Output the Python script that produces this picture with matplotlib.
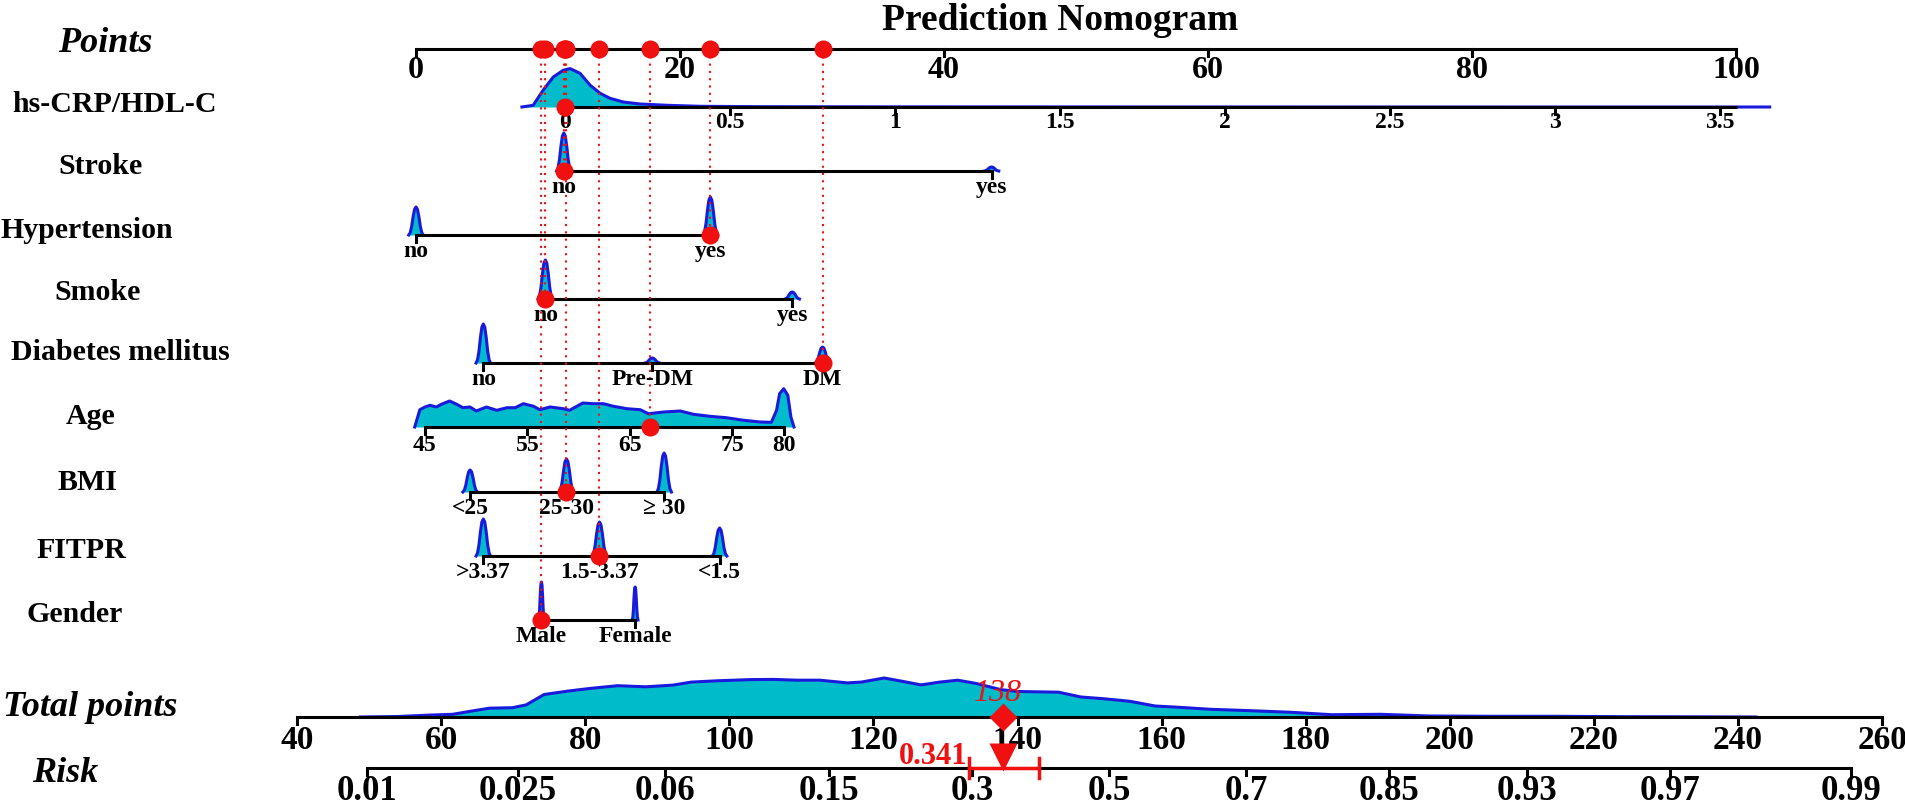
import numpy as np
import matplotlib.pyplot as plt
from matplotlib import transforms

plt.rcParams['font.family'] = ['Liberation Serif', 'DejaVu Serif']
plt.rcParams['font.weight'] = 'bold'

# ---------------- data ----------------
points_ticks = [0, 20, 40, 60, 80, 100]

# hs-CRP/HDL-C (continuous): points = crp_p0 + crp_k * value
crp_ticks = [0, 0.5, 1, 1.5, 2, 2.5, 3, 3.5]
crp_p0, crp_k = 11.3, 25.0
crp_range = [0, 3.55]
crp_dens_x = [-0.131, -0.097, -0.067, -0.036, -0.006, 0.015, 0.045, 0.076, 0.106,
              0.136, 0.176, 0.227, 0.309, 0.41, 0.6, 1.0, 2.0, 3.0, 3.65]
crp_dens_h = [0, 1.7, 16.7, 30, 36.7, 38.4, 33.7, 21.7, 13.7,
              8.7, 5, 3, 1.7, 0.7, 0.3, 0.15, 0.05, 0, 0]
crp_value = 0.0

# categorical variables: level labels, points, density bump heights, chosen level
stroke_levels = ['no', 'yes']
stroke_points = [11.2, 43.6]
stroke_dens = [38, 4]
stroke_sel = 0

hyper_levels = ['no', 'yes']
hyper_points = [0.0, 22.3]
hyper_dens = [28, 38]
hyper_sel = 1

smoke_levels = ['no', 'yes']
smoke_points = [9.8, 28.5]
smoke_dens = [39, 7]
smoke_sel = 0

dm_levels = ['no', 'Pre-DM', 'DM']
dm_points = [5.1, 17.9, 30.8]
dm_dens = [39, 5, 16]
dm_sel = 2

# Age (continuous): points = age_p0 + age_k * (age - 45)
age_ticks = [45, 55, 65, 75, 80]
age_p0, age_k = 0.68, 0.7765
age_dens_x = [44, 44.5, 45, 45.5, 46.1, 46.6, 47.4, 48.1, 48.7, 49.4, 50, 51, 52, 53,
              53.8, 54.6, 55.6, 56.2, 57.2, 58.5, 59.1, 60.4, 61.4, 62.4, 63.4, 64.7,
              66, 66.8, 68.3, 69.9, 71.2, 72.8, 74.4, 76.1, 77.7, 78.8, 79.3, 79.6,
              80, 80.4, 80.7, 81]
age_dens_h = [0, 17.3, 20, 21.7, 20, 22.7, 26, 22.7, 19.3, 20, 16, 20, 16.7, 19.3,
              19.3, 23.3, 20.7, 17.3, 20, 18.3, 16.7, 24, 23.3, 23.3, 20.7, 18.3,
              17.3, 13.3, 15, 16, 12.7, 10.7, 9.3, 6.7, 5, 4.7, 16.7, 33.3,
              38.3, 31.7, 10, 0]
age_value = 67

bmi_levels = ['<25', '25-30', '\u2265 30']
bmi_points = [4.1, 11.4, 18.8]
bmi_dens = [22, 33, 39]
bmi_sel = 1

fitpr_levels = ['>3.37', '1.5-3.37', '<1.5']
fitpr_points = [5.1, 13.9, 23.0]
fitpr_dens = [37, 34, 28]
fitpr_sel = 1

gender_levels = ['Male', 'Female']
gender_points = [9.5, 16.6]
gender_dens = [38, 33]
gender_sel = 0

# total points and risk
total_ticks = [40, 60, 80, 100, 120, 140, 160, 180, 200, 220, 240, 260]
tot_dens_x = [48.8, 54, 58.4, 61.6, 64.8, 66.7, 69.9, 71.8, 74.3, 77.5, 80.7, 84.5,
              88.4, 92.2, 94.7, 98.6, 103, 106.2, 109.4, 112.6, 116.4, 118.3, 121.5,
              124, 126.6, 129.2, 131.7, 134.3, 137.6, 140, 145.7, 148.8, 151.9, 155.6,
              159.1, 162.4, 166.8, 172.4, 178, 183.6, 190.4, 197.2, 205.9, 215.2,
              224.5, 233, 242.5]
tot_dens_h = [0, 0.5, 1.9, 2.7, 6.6, 8.8, 9.3, 12.1, 22.5, 25.8, 28.6, 31.3,
              30.2, 31.9, 34.9, 36.3, 37.4, 37.6, 36.8, 36.8, 34.1, 34.9, 39.0,
              35.7, 32.1, 34.9, 36.8, 33.5, 27.5, 25.5, 24.8, 20, 18.3, 15.7,
              11, 9.7, 7.7, 6.3, 4.7, 2.3, 2.7, 1, 0.7, 0.7, 0.3, 0.2, 0]
risk_ticks = [0.01, 0.025, 0.06, 0.15, 0.3, 0.5, 0.7, 0.85, 0.93, 0.97, 0.99]
risk_b0, risk_b1 = -6.814, 0.04462      # logit(risk) = b0 + b1 * total points
risk_ci = [0.296, 0.393]

# ---------------- layout ----------------
W, H = 1905, 807
PX0, PXK = 416, 13.2          # pixel of 0 points, pixels per point
TOT_X0, TOT_K = (297 - PX0) / PXK, 7.205 / PXK
row_y = dict(points=49, crp=107, stroke=171, hyper=235, smoke=299, dm=363,
             age=427, bmi=492, fitpr=556, gender=620, total=717, risk=768)

CYAN = '#00BCCB'
BLUE = '#1a1adc'
RED = '#f01010'
bump_shape = np.array([0, 0.08, 0.3, 0.65, 0.92, 1, 0.92, 0.65, 0.3, 0.08, 0])
bump_off = np.linspace(-1, 1, len(bump_shape))

fig = plt.figure(figsize=(W / 100, H / 100), dpi=100)
ax = fig.add_axes([0, 0, 1, 1])
ax.set_xlim(-PX0 / PXK, (W - PX0) / PXK)
ax.set_ylim(H, 0)
ax.axis('off')
lab_tr = transforms.blended_transform_factory(ax.transAxes, ax.transData)


def tot_x(tp):
    return TOT_X0 + (np.asarray(tp, dtype=float) - total_ticks[0]) * TOT_K


def risk_x(p):
    p = np.asarray(p, dtype=float)
    return tot_x((np.log(p / (1 - p)) - risk_b0) / risk_b1)


def density(xs, hs, y0):
    hs = np.asarray(hs, dtype=float)
    ax.fill_between(xs, y0, y0 - hs, color=CYAN, lw=0, zorder=1)
    ax.plot(xs, y0 - hs, color=BLUE, lw=2.2, zorder=2)


def axis_line(xs_ticks, labels, y0, size=17, tick=7, pad=6, lw=2.2, x_from=None, x_to=None):
    a = xs_ticks[0] if x_from is None else x_from
    b = xs_ticks[-1] if x_to is None else x_to
    ax.plot([a, b], [y0, y0], color='black', lw=lw, zorder=3, solid_capstyle='butt')
    for xv, lab in zip(xs_ticks, labels):
        ax.plot([xv, xv], [y0, y0 + tick], color='black', lw=lw, zorder=3)
        ax.text(xv, y0 + pad, lab, ha='center', va='top', fontsize=size, zorder=5)


def var_label(txt, cx, cy, size=21.5, style='normal'):
    ax.text(cx / W, cy, txt, transform=lab_tr, ha='center', va='center',
            fontsize=size, style=style)


def categorical(levels, pts, dens, sel, y0, width=0.55):
    for p, h in zip(pts, dens):
        density(p + bump_off * width, bump_shape * h, y0)
    axis_line(pts, levels, y0)
    return pts[sel]


# ---------------- draw ----------------
ax.text(1060 / W, 20, 'Prediction Nomogram', transform=lab_tr, ha='center',
        va='center', fontsize=27)

# Points scale
axis_line(points_ticks, [str(t) for t in points_ticks], row_y['points'], size=23, pad=7)
var_label('Points', 105, 44, size=26, style='italic')

chosen = {}

# hs-CRP/HDL-C
crp_pts = lambda v: crp_p0 + crp_k * np.asarray(v, dtype=float)
density(crp_pts(crp_dens_x), crp_dens_h, row_y['crp'])
axis_line(list(crp_pts(crp_ticks)), [f'{t:g}' for t in crp_ticks], row_y['crp'],
          x_from=crp_pts(crp_range[0]), x_to=crp_pts(crp_range[1]), pad=5)
chosen['crp'] = float(crp_pts(crp_value))
var_label('hs-CRP/HDL-C', 115, 105)

chosen['stroke'] = categorical(stroke_levels, stroke_points, stroke_dens, stroke_sel, row_y['stroke'])
var_label('Stroke', 101, 167)
chosen['hyper'] = categorical(hyper_levels, hyper_points, hyper_dens, hyper_sel, row_y['hyper'])
var_label('Hypertension', 87, 231)
chosen['smoke'] = categorical(smoke_levels, smoke_points, smoke_dens, smoke_sel, row_y['smoke'])
var_label('Smoke', 98, 293)
chosen['dm'] = categorical(dm_levels, dm_points, dm_dens, dm_sel, row_y['dm'])
var_label('Diabetes mellitus', 120, 352)

# Age
age_pts = lambda a: age_p0 + age_k * (np.asarray(a, dtype=float) - age_ticks[0])
density(age_pts(age_dens_x), age_dens_h, row_y['age'])
axis_line(list(age_pts(age_ticks)), [str(t) for t in age_ticks], row_y['age'], pad=8)
chosen['age'] = float(age_pts(age_value))
var_label('Age', 91, 416)

chosen['bmi'] = categorical(bmi_levels, bmi_points, bmi_dens, bmi_sel, row_y['bmi'])
var_label('BMI', 87, 482)
chosen['fitpr'] = categorical(fitpr_levels, fitpr_points, fitpr_dens, fitpr_sel, row_y['fitpr'])
var_label('FITPR', 81, 550)
chosen['gender'] = categorical(gender_levels, gender_points, gender_dens, gender_sel,
                               row_y['gender'], width=0.22)
var_label('Gender', 75, 614)

# red markers and dotted guides
for key, pv in chosen.items():
    ax.plot([pv, pv], [row_y['points'], row_y[key]], color=RED, lw=1.5,
            linestyle=(0, (1, 2.5)), zorder=4)
    ax.plot(pv, row_y[key], 'o', color=RED, ms=13, mec='none', zorder=6)
    ax.plot(pv, row_y['points'], 'o', color=RED, ms=13, mec='none', zorder=6)

# Total points
density(tot_x(tot_dens_x), tot_dens_h, row_y['total'])
axis_line(list(tot_x(total_ticks)), [str(t) for t in total_ticks], row_y['total'],
          size=24, pad=8)
var_label('Total points', 90, 707, size=26, style='italic')

total = sum(chosen.values())
risk = 1 / (1 + np.exp(-(risk_b0 + risk_b1 * total)))
ax.plot(tot_x(total), row_y['total'], 'D', color=RED, ms=14, mec='none', zorder=6)
ax.text(tot_x(total) - 0.4, 708, f'{total:.0f}', ha='center', va='bottom', color=RED,
        fontsize=23, style='italic', weight='normal', zorder=7)

# Risk
axis_line(list(risk_x(risk_ticks)), [f'{t:g}' for t in risk_ticks], row_y['risk'],
          size=25, pad=7)
var_label('Risk', 65, 773, size=26, style='italic')
ci_x = risk_x(risk_ci)
ax.plot(ci_x, [row_y['risk']] * 2, color=RED, lw=2.5, zorder=6)
for cx in ci_x:
    ax.plot([cx, cx], [row_y['risk'] - 10, row_y['risk'] + 10], color=RED, lw=2.5, zorder=6)
ax.plot(risk_x(risk), row_y['risk'] - 11, 'v', color=RED, ms=20, mec='none', zorder=7)
ax.text(ci_x[0] - 0.1, row_y['risk'] - 12, f'{risk:.3f}', ha='right', va='center',
        color=RED, fontsize=22, zorder=7)

fig.savefig('out.png', dpi=100)
